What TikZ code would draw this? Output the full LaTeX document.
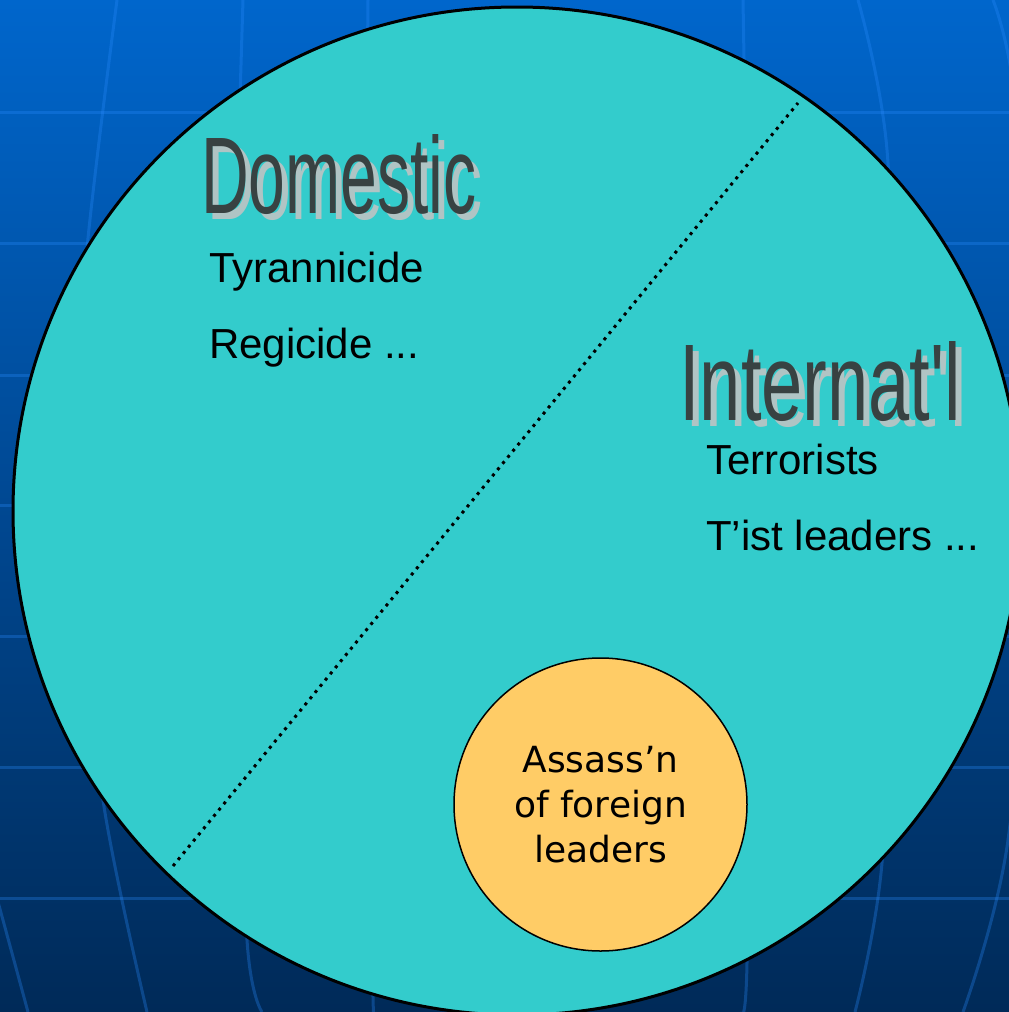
\documentclass[tikz,border=0pt]{standalone}
\usepackage{fontspec}
\setmainfont{Liberation Sans}
\newfontfamily\bubblefont{DejaVu Sans}
\usepackage{graphicx}
\usetikzlibrary{positioning, calc}

\definecolor{slidetop}{RGB}{0,102,204}
\definecolor{slidebot}{RGB}{0,42,88}
\definecolor{gridblue}{RGB}{42,140,255}
\definecolor{poolcyan}{RGB}{51,204,204}
\definecolor{foreignorange}{RGB}{255,204,102}
\definecolor{headgray}{RGB}{56,66,66}
\definecolor{headshadow}{RGB}{176,196,196}

\tikzset{
  gridline/.style={draw=gridblue, opacity=0.3, line width=3pt},
  poolcircle/.style={circle, draw=black, line width=3pt, fill=poolcyan,
    minimum size=1008pt, inner sep=0pt},
  divider/.style={draw=black, line width=3pt, dash pattern=on 3pt off 5pt}
}
\tikzset{
  headtext/.style={anchor=base west, inner sep=0pt,
    font=\fontsize{109}{120}\selectfont}
}
\tikzset{
  itemtext/.style={anchor=base west, inner sep=0pt,
    font=\fontsize{42}{50}\selectfont}
}
\tikzset{
  bubble/.style={circle, draw=black, line width=1.5pt, fill=foreignorange,
    minimum size=293pt, inner sep=0pt, align=center,
    font=\bubblefont\fontsize{36}{45}\selectfont}
}
% squeezed heading with a soft drop shadow: name, base point, xscale, text
\newcommand{\shadowhead}[4]{%
  \node[headtext, text=headshadow] at ($(#2)+(6,6)$) {\scalebox{#3}[1]{#4}};
  \node[headtext, text=headgray] (#1) at (#2) {\scalebox{#3}[1]{#4}};
}

\begin{document}
\begin{tikzpicture}[x=1pt, y=-1pt]
  \useasboundingbox (0,0) rectangle (1009,1012);
  \begin{scope}
    \clip (0,0) rectangle (1009,1012);
    \shade[top color=slidetop, bottom color=slidebot] (0,0) rectangle (1009,1012);
    % globe grid behind everything
    \foreach \y in {112, 243, 375, 505, 636, 767, 898}
      \draw[gridline] (0,\y) -- (1009,\y);
    \draw[gridline] plot[smooth] coordinates {(-60,700) (-30,800) (28,1012)};
    \draw[gridline] plot[smooth] coordinates {(117,0) (85,270) (75,520) (103,800) (147,1012)};
    \draw[gridline] plot[smooth] coordinates {(243,0) (235,300) (235,600) (247,940) (262,1012)};
    \draw[gridline] plot[smooth] coordinates {(368,0) (365,500) (373,997) (377,1012)};
    \draw[gridline] plot[smooth] coordinates {(743,0) (750,500) (747,963) (740,1012)};
    \draw[gridline] plot[smooth] coordinates {(858,0) (887,150) (900,500) (882,863) (855,1012)};
    \draw[gridline] plot[smooth] coordinates {(993,0) (1015,100) (1040,450) (1008,840) (963,1012)};

    % the whole set, split in two
    \node[poolcircle] (pool) at (517,511) {};
    \coordinate (cutlow) at (173,866);
    \coordinate (cuthigh) at (798,103);
    \draw[divider] (cutlow) -- (cuthigh);

    \coordinate (domhead) at (201,213);
    \shadowhead{domestic}{domhead}{0.606}{Domestic}
    \node[itemtext] (tyrann) at (209,282) {Tyrannicide};
    \node[itemtext] (regic) at (209,358) {Regicide ...};

    \coordinate (inthead) at (679,420);
    \shadowhead{internatl}{inthead}{0.68}{Internat\textquotesingle l}
    \node[itemtext] (terror) at (706,474) {Terrorists};
    \node[itemtext] (tleaders) at (706,550) {T’ist leaders ...};

    \node[bubble] (foreign) at (600.5,804.5) {Assass’n\\of foreign\\leaders};
  \end{scope}
\end{tikzpicture}
\end{document}
